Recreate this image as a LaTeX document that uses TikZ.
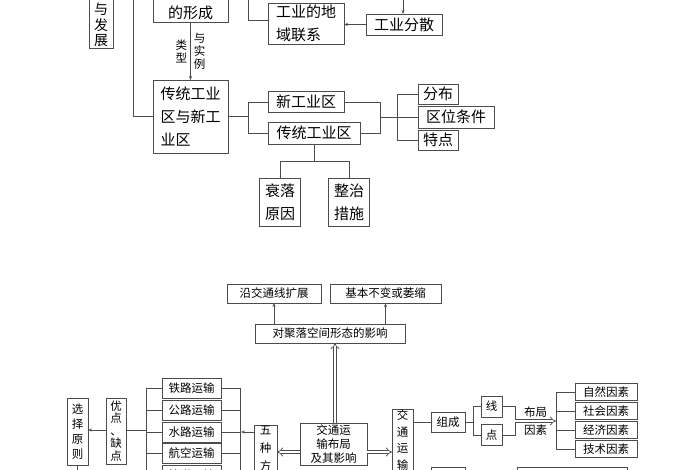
\documentclass[tikz,border=0pt]{standalone}
\usepackage{fontspec}
\newfontfamily\cjk{Noto Sans CJK SC}
\usetikzlibrary{arrows.meta}

\tikzset{
  box/.style={draw=black!70, line width=0.8pt, inner sep=2pt, outer sep=0pt},
  tbox/.style={box, font=\cjk\fontsize{15}{23}\selectfont},
  bbox/.style={box, font=\cjk\fontsize{11.5}{14}\selectfont, minimum height=19pt},
  link/.style={draw=black!70, line width=0.8pt},
  arr/.style={link, -{Stealth[length=4pt,width=3pt]}},
  dbl/.style={draw=black!70, line width=0.7pt, double, double distance=2.4pt, -{Implies}},
}

\begin{document}
\begin{tikzpicture}[x=1pt, y=-1pt]
  \useasboundingbox[fill=white] (0,0) rectangle (700,470);
  \clip (0,0) rectangle (700,470);

  % upper part
  \node[tbox, anchor=south, minimum width=24pt, align=center, inner sep=1pt, font=\cjk\fontsize{14}{15.5}\selectfont] (fazhan) at (101,48) {\strut\\\strut\\与\\发\\展};
  \node[tbox, anchor=south, minimum width=75pt, align=left] (xingcheng) at (190.5,22) {\strut\\的形成};
  \node[tbox, minimum width=75pt, minimum height=73pt, align=left] (gongyequ) at (190.5,116.5) {传统工业\\区与新工\\业区};
  \node[tbox, anchor=south, minimum width=76pt, align=left] (lianxi) at (306,44) {工业的地\\域联系};
  \node[tbox, minimum width=76pt, minimum height=21pt] (fensan) at (404,24.5) {工业分散};
  \node[tbox, minimum width=76pt, minimum height=21pt] (xin) at (306,102) {新工业区};
  \node[tbox, minimum width=92pt, minimum height=22pt] (chuantong) at (314,133) {传统工业区};
  \node[tbox, minimum width=40pt, minimum height=20pt] (fenbu) at (438,94) {分布};
  \node[tbox, minimum width=76pt, minimum height=22pt] (quwei) at (456,117) {区位条件};
  \node[tbox, minimum width=40pt, minimum height=20pt] (tedian) at (438,140) {特点};
  \node[tbox, minimum width=41pt, minimum height=48pt, align=center] (shuailuo) at (280,202) {衰落\\原因};
  \node[tbox, minimum width=41pt, minimum height=48pt, align=center] (zhengzhi) at (349,202) {整治\\措施};

  \coordinate (topA) at (133,0);
  \coordinate (topB) at (248,0);
  \coordinate (topC) at (403,0);
  \draw[link] (topA) |- (gongyequ.west);
  \draw[link] (topB) |- (lianxi.west|-0,20);
  \draw[arr] (topC) -- (fensan.north-|topC);
  \draw[arr] (fensan.west) -- (lianxi.east|-fensan.west);
  \draw[arr] (xingcheng.south) -- node[left, font=\cjk\fontsize{11.5}{13}\selectfont, align=center, inner sep=3pt]{类\\型}
    node[right, font=\cjk\fontsize{11.5}{13}\selectfont, align=center, inner sep=3pt]{与\\实\\例} (gongyequ.north);
  \draw[link] (gongyequ.east) -- (248,116.5) |- (xin.west);
  \draw[link] (248,116.5) |- (chuantong.west);
  \draw[link] (xin.east) -| (380,117);
  \draw[link] (chuantong.east) -| (380,117) -- (397,117);
  \draw[link] (397,117) |- (fenbu.west);
  \draw[link] (397,117) |- (tedian.west);
  \draw[link] (397,117) -- (quwei.west);
  \draw[link] (chuantong.south) -- (314,161) -| (shuailuo.north);
  \draw[link] (314,161) -| (zhengzhi.north);

  % lower part
  \node[bbox, minimum width=94pt] (kuozhan) at (274,293.5) {沿交通线扩展};
  \node[bbox, minimum width=111pt] (weisuo) at (385.5,293.5) {基本不变或萎缩};
  \node[bbox, minimum width=150pt] (yingxiang) at (330,333.5) {对聚落空间形态的影响};
  \node[bbox, anchor=north, minimum width=67pt, align=center] (buju) at (333.5,423) {交通运\\输布局\\及其影响};
  \node[bbox, anchor=north, minimum width=23pt, align=center, inner sep=1pt, font=\cjk\fontsize{11.5}{18}\selectfont] (wuzhong) at (265.5,425) {五\\种\\方\\式};
  \node[bbox, anchor=north, minimum width=21pt, align=center, inner sep=1pt, font=\cjk\fontsize{11.5}{16.5}\selectfont] (jiaotong) at (402.5,409) {交\\通\\运\\输};
  \node[bbox, minimum width=34pt, minimum height=20pt] (zucheng) at (448,422) {组成};
  \node[bbox, minimum width=21pt, minimum height=21pt] (xian) at (491.5,406.5) {线};
  \node[bbox, minimum width=21pt, minimum height=21pt] (dian) at (491.5,435) {点};
  \foreach \name/\txt/\y in {ziran/自然因素/392, shehui/社会因素/411, jingji/经济因素/430, jishu/技术因素/449} {
    \node[bbox, minimum width=62pt, minimum height=17pt] (\name) at (606,\y) {\txt};
  }
  \foreach \name/\txt/\y in {tielu/铁路运输/388, gonglu/公路运输/410, shuilu/水路运输/432, hangkong/航空运输/453, guandao/管道运输/475} {
    \node[bbox, minimum width=59pt, minimum height=20pt] (\name) at (191.5,\y) {\txt};
  }
  \node[bbox, minimum width=20pt, minimum height=66pt, align=center, inner sep=1pt, font=\cjk\fontsize{11.5}{12.5}\selectfont] (youdian) at (116,431) {优\\点\\、\\缺\\点};
  \node[bbox, minimum width=21pt, minimum height=67pt, align=center, inner sep=1pt, font=\cjk\fontsize{11.5}{15}\selectfont] (xuanze) at (77.5,431.5) {选\\择\\原\\则};
  \node[bbox, anchor=north, minimum width=34pt, minimum height=20pt] (bottomA) at (448,467) {};
  \node[bbox, anchor=north, minimum width=110pt, minimum height=20pt] (bottomB) at (572,467) {};

  \coordinate (botX) at (77.5,470);
  \draw[arr] (yingxiang.north-|kuozhan) -- (kuozhan.south);
  \draw[arr] (yingxiang.north-|weisuo) -- (weisuo.south);
  \draw[dbl] (buju.north-|335,0) -- (yingxiang.south-|335,0);
  \draw[dbl] (buju.west|-0,452) -- (wuzhong.east|-0,452);
  \draw[dbl] (buju.east|-0,452) -- (jiaotong.west|-0,452);
  \draw[link] (tielu.east) -- (240,388) -- (240,470);
  \foreach \name in {gonglu, shuilu, hangkong, guandao} { \draw[link] (\name.east) -- (\name.east-|240,0); }
  \draw[arr] (wuzhong.west|-0,432) -- (241,432);
  \draw[link] (tielu.west) -- (146,388) -- (146,470);
  \foreach \name in {gonglu, shuilu, hangkong, guandao} { \draw[link] (\name.west) -- (\name.west-|146,0); }
  \draw[link] (146,430) -- (youdian.east|-0,430);
  \draw[arr] (youdian.west|-0,430) -- (xuanze.east|-0,430);
  \draw[link] (xuanze.south) -- (botX);
  \draw[link] (jiaotong.east|-0,422) -- (zucheng.west);
  \draw[link] (zucheng.east) -- (473,422);
  \draw[link] (473,422) |- (xian.west);
  \draw[link] (473,422) |- (dian.west);
  \draw[link] (xian.east) -| (515,421);
  \draw[link] (dian.east) -| (515,421);
  \draw[dbl] (515,421) -- node[above, font=\cjk\fontsize{11.5}{13}\selectfont, inner sep=3pt]{布局}
    node[below, font=\cjk\fontsize{11.5}{13}\selectfont, inner sep=3pt]{因素} (556,421);
  \draw[link] (556,392) -- (556,449);
  \foreach \name in {ziran, shehui, jingji, jishu} { \draw[link] (\name.west-|556,0) -- (\name.west); }
\end{tikzpicture}
\end{document}
